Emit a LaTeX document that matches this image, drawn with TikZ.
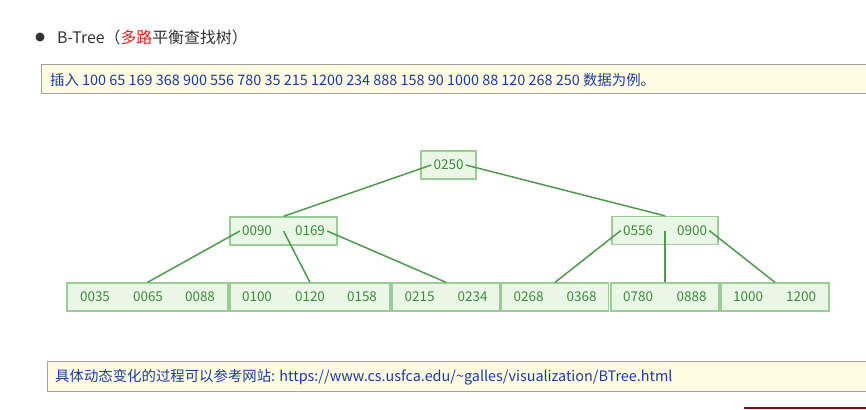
\documentclass[tikz,border=0pt]{standalone}
\usepackage{fontspec}
\setmainfont{Noto Sans CJK SC}
\definecolor{nodefill}{HTML}{EAF7E6}
\definecolor{nodedraw}{HTML}{9CCB98}
\definecolor{edgecol}{HTML}{4E9A4E}
\definecolor{keycol}{HTML}{3C8A3C}
\definecolor{notefill}{HTML}{FFFCE3}
\definecolor{notedraw}{HTML}{A0A0A0}
\definecolor{notetext}{HTML}{1A3D9A}
\definecolor{headtext}{HTML}{333333}
\definecolor{redtext}{HTML}{E02020}
\definecolor{darkred}{HTML}{7B1010}
\tikzset{
  box/.style={draw=nodedraw, fill=nodefill, line width=1.3pt, inner sep=0pt},
  key/.style={text=keycol, font=\fontsize{13.5}{15}\selectfont, inner sep=2pt},
  edge/.style={draw=edgecol, line width=1.5pt},
  note/.style={draw=notedraw, fill=notefill, line width=1pt},
  notetxt/.style={anchor=west, text=notetext, font=\fontsize{14.4}{16}\selectfont, inner sep=0pt}
}
\begin{document}
\begin{tikzpicture}[x=1pt,y=-1pt]
\useasboundingbox (0,0) rectangle (866,409);
% header
\fill[headtext] (40,37) circle (4.5);
\node[anchor=west, inner sep=0pt, text=headtext, font=\fontsize{15.9}{18}\selectfont] (head) at (57,37) {B-Tree（\textcolor{redtext}{多路}平衡查找树）};
% note 1
\path[note] (41,65) rectangle (870,94);
\node[notetxt] (note1) at (50,80) {插入 100 65 169 368 900 556 780 35 215 1200 234 888 158 90 1000 88 120 268 250 数据为例。};
% note 2
\path[note] (47,361) rectangle (870,391);
\node[notetxt] (note2) at (55,377) {具体动态变化的过程可以参考网站: https://www.cs.usfca.edu/\textasciitilde galles/visualization/BTree.html};
\fill[darkred] (744,407) rectangle (866,409);
% root
\node[box, minimum width=55pt, minimum height=28pt] (root) at (448.5,165) {};
\node[key] (k250) at (448.5,165) {0250};
% middle
\node[box, minimum width=107pt, minimum height=28pt] (m1) at (283.5,231) {};
\node[key] (k090) at (257,231) {0090};
\node[key] (k169) at (310,231) {0169};
\node[box, minimum width=106pt, minimum height=28pt] (m2) at (665,230.5) {};
\node[key] (k556) at (638,230.5) {0556};
\node[key] (k900) at (692,230.5) {0900};
% leaves
\node[box, minimum width=161pt, minimum height=28pt] (l1) at (147.5,297) {};
\node[key] at (95,297) {0035};
\node[key] at (148,297) {0065};
\node[key] at (200,297) {0088};
\node[box, minimum width=160pt, minimum height=28pt] (l2) at (310,297) {};
\node[key] at (257,297) {0100};
\node[key] at (310,297) {0120};
\node[key] at (362,297) {0158};
\node[box, minimum width=108pt, minimum height=28pt] (l3) at (446,297) {};
\node[key] at (419.5,297) {0215};
\node[key] at (472.5,297) {0234};
\node[box, minimum width=107pt, minimum height=28pt] (l4) at (555,297) {};
\node[key] at (528.5,297) {0268};
\node[key] at (581.5,297) {0368};
\node[box, minimum width=108pt, minimum height=28pt] (l5) at (665,297) {};
\node[key] at (638,297) {0780};
\node[key] at (691.5,297) {0888};
\node[box, minimum width=108pt, minimum height=28pt] (l6) at (775,297) {};
\node[key] at (748,297) {1000};
\node[key] at (801,297) {1200};
% edges
\draw[edge] (k250.west) -- (m1.north);
\draw[edge] (k250.east) -- (m2.north);
\draw[edge] (k090.west) -- (l1.north);
\draw[edge] (m1.center) -- (l2.north);
\draw[edge] (k169.east) -- (l3.north);
\draw[edge] (k556.west) -- (l4.north);
\draw[edge] (m2.center) -- (l5.north);
\draw[edge] (k900.east) -- (l6.north);
\end{tikzpicture}
\end{document}
